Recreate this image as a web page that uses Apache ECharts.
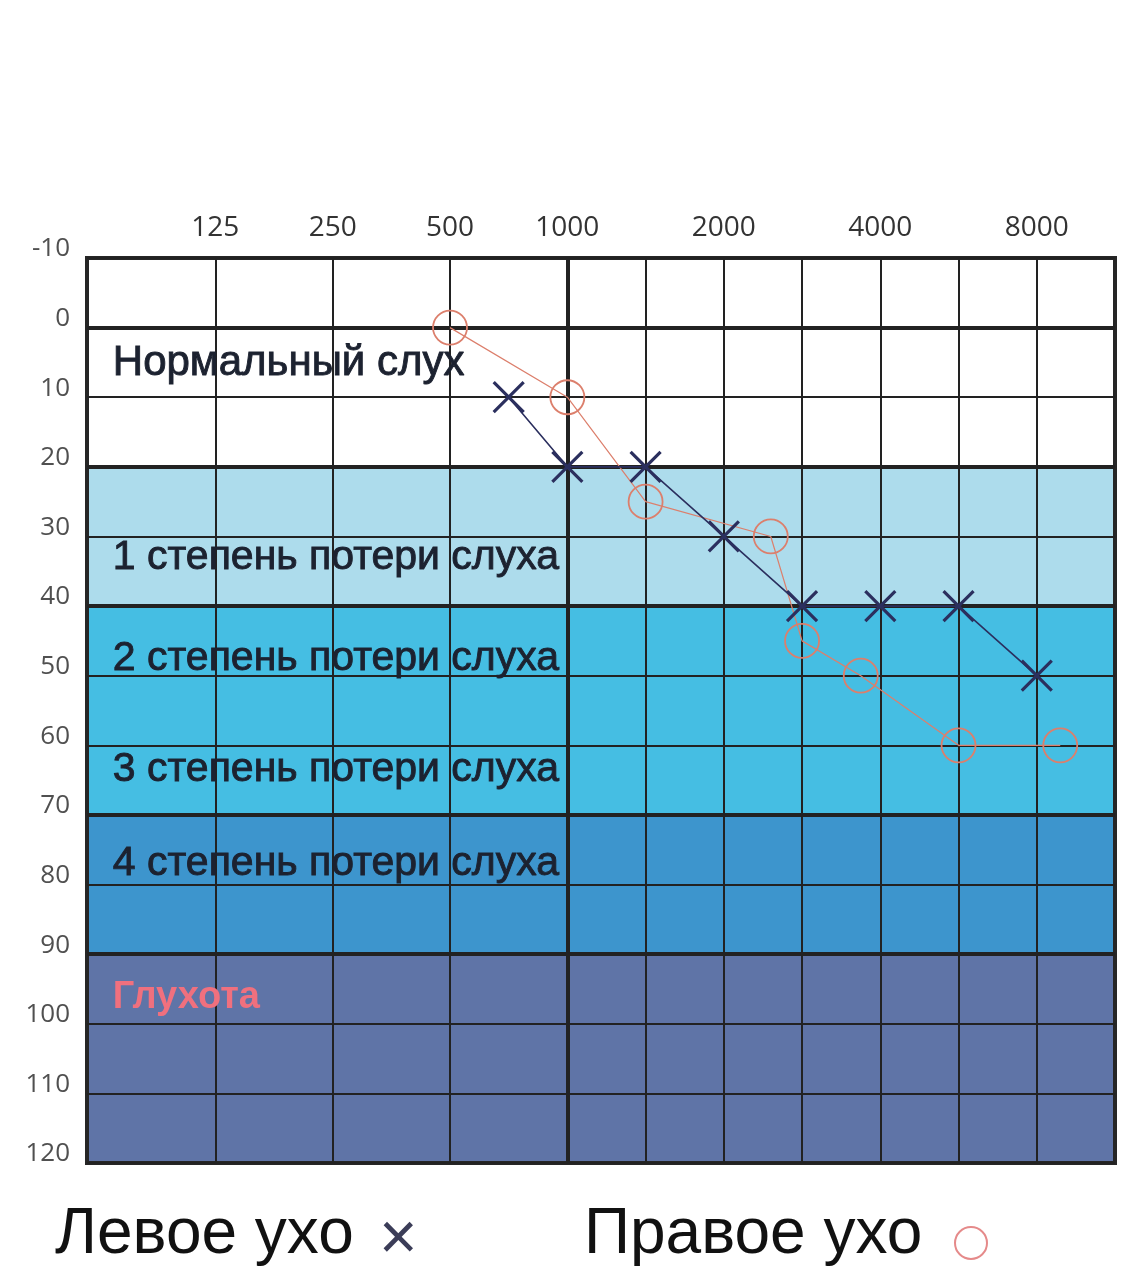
<!DOCTYPE html>
<html><head><meta charset="utf-8">
<script src="https://cdn.jsdelivr.net/npm/echarts@6/dist/echarts.min.js"></script>
<style>html,body{margin:0;padding:0;background:#fff}#c{width:1133px;height:1280px}</style>
</head><body><div id="c"></div>
<script>
// ---- data ----
const freqLabels = [125, 250, 500, 1000, 2000, 4000, 8000];
const gridFreqs = [125, 250, 500, 1000, 1500, 2000, 3000, 4000, 6000, 8000];
const thickDb = [0, 20, 40, 70, 90];
const leftFreq = [750, 1000, 1500, 2000, 3000, 4000, 6000, 8000];
const leftDb = [10, 20, 20, 30, 40, 40, 40, 50];
const rightFreq = [500, 1000, 1500, 2600, 3000, 3750, 6000, 9200];
const rightDb = [0, 10, 25, 30, 45, 50, 60, 60];
const bandFrom = [20, 40, 70, 90];
const bandTo = [40, 70, 90, 120];
const bandNames = ['Нормальный слух', '1 степень потери слуха', '2 степень потери слуха',
  '3 степень потери слуха', '4 степень потери слуха', 'Глухота'];
const bandNameDb = [5.2, 33, 47.5, 63.5, 77, 96.2];
const legendNames = ['Левое ухо', 'Правое ухо'];

// ---- layout / style ----
const bandColors = ['#addcec', '#45bee3', '#3d95cd', '#5f74a7'];
const LEFT_MARGIN = 1.64, OCT_W = [1.5, 1.5, 1.5, 2, 2, 2], RIGHT_MARGIN = 1;
const X_MAX = LEFT_MARGIN + OCT_W.reduce((a, b) => a + b, 0) + RIGHT_MARGIN;
function toX(f) {
  let pos = LEFT_MARGIN;
  for (let i = 0; i < freqLabels.length - 1; i++) {
    const a = freqLabels[i], b = freqLabels[i + 1];
    if (f <= b) return pos + (f - a) / (b - a) * OCT_W[i];
    pos += OCT_W[i];
  }
  const last = freqLabels[freqLabels.length - 1];
  return pos + (f - last) / (last / 2) * RIGHT_MARGIN;
}
const labelPos = freqLabels.map(toX);
const NAVY = '#2b2f5e', SALMON = '#dc7f6c', TEXT = '#1c2230';

const chart = echarts.init(document.getElementById('c'));
chart.setOption({
  animation: false,
  backgroundColor: '#ffffff',
  grid: { left: 87, top: 258, width: 1028, height: 905, show: true,
    borderColor: '#262626', borderWidth: 4, backgroundColor: 'transparent', z: 5 },
  xAxis: {
    type: 'value', position: 'top', min: 0, max: X_MAX, z: 5,
    axisLine: { show: false }, axisTick: { show: false }, splitLine: { show: false },
    axisLabel: {
      customValues: labelPos, margin: 16,
      color: '#333', fontSize: 28, fontFamily: 'Open Sans',
      formatter: v => {
        let best = 0;
        labelPos.forEach((p, i) => { if (Math.abs(p - v) < Math.abs(labelPos[best] - v)) best = i; });
        return String(freqLabels[best]);
      }
    }
  },
  yAxis: {
    type: 'value', inverse: true, min: -10, max: 120, interval: 10, z: 5,
    axisLine: { show: false }, axisTick: { show: false },
    splitLine: { show: true, lineStyle: { color: '#222', width: 2 } },
    axisLabel: { color: '#505050', fontSize: 26, fontFamily: 'Open Sans', margin: 17,
      verticalAlign: 'bottom', lineHeight: 18 }
  },
  series: [
    { type: 'line', data: [], z: 1, silent: true,
      markArea: { silent: true, label: { show: false },
        data: bandFrom.map((f, i) => [{ yAxis: f, itemStyle: { color: bandColors[i], opacity: 1 } }, { yAxis: bandTo[i] }]) } },
    { type: 'line', data: [], z: 6, silent: true,
      markLine: { silent: true, symbol: 'none', label: { show: false }, animation: false,
        data: gridFreqs.map(f => ({ xAxis: toX(f), lineStyle: { color: '#222', type: 'solid', width: f === 1000 ? 4 : 2 } }))
          .concat(thickDb.map(d => ({ yAxis: d, lineStyle: { color: '#222', type: 'solid', width: 4 } }))) } },
    { name: legendNames[1], type: 'line', z: 10,
      data: rightFreq.map((f, i) => [toX(f), rightDb[i]]),
      symbol: 'circle', symbolSize: 34,
      itemStyle: { color: 'transparent', borderColor: SALMON, borderWidth: 1.8 },
      lineStyle: { color: SALMON, width: 1.2 } },
    { name: legendNames[0], type: 'line', z: 11,
      data: leftFreq.map((f, i) => [toX(f), leftDb[i]]),
      symbol: 'path://M0,0L10,10M10,0L0,10', symbolSize: 30,
      itemStyle: { color: 'transparent', borderColor: NAVY, borderWidth: 3.2 },
      lineStyle: { color: NAVY, width: 1.6 } },
    { type: 'scatter', z: 12, silent: true, symbolSize: 0,
      itemStyle: { opacity: 1 },
      data: bandNames.map((n, i) => ({ name: n, value: [0.33, bandNameDb[i]],
        label: i === 5 ? { color: '#f0707e', fontWeight: 'bold', fontSize: 38, textBorderWidth: 0 }
          : (i === 0 ? { fontSize: 42 } : {}) })),
      label: { show: true, position: 'right', distance: 0, formatter: p => p.name,
        color: TEXT, fontSize: 41, fontFamily: 'Liberation Sans', opacity: 1,
        textBorderColor: TEXT, textBorderWidth: 0.9 } }
  ],
  graphic: [
    { type: 'text', left: 55, top: 1203, style: { text: legendNames[0], font: '64px "Liberation Sans"', fill: '#111' } },
    { type: 'text', left: 379, top: 1208, style: { text: '×', font: '66px "Liberation Sans"', fill: '#3b3d58' } },
    { type: 'text', left: 584, top: 1203, style: { text: legendNames[1], font: '64px "Liberation Sans"', fill: '#111' } },
    { type: 'circle', shape: { cx: 971, cy: 1243, r: 16 }, style: { fill: 'none', stroke: '#e58a8a', lineWidth: 2 } }
  ]
});
</script></body></html>
